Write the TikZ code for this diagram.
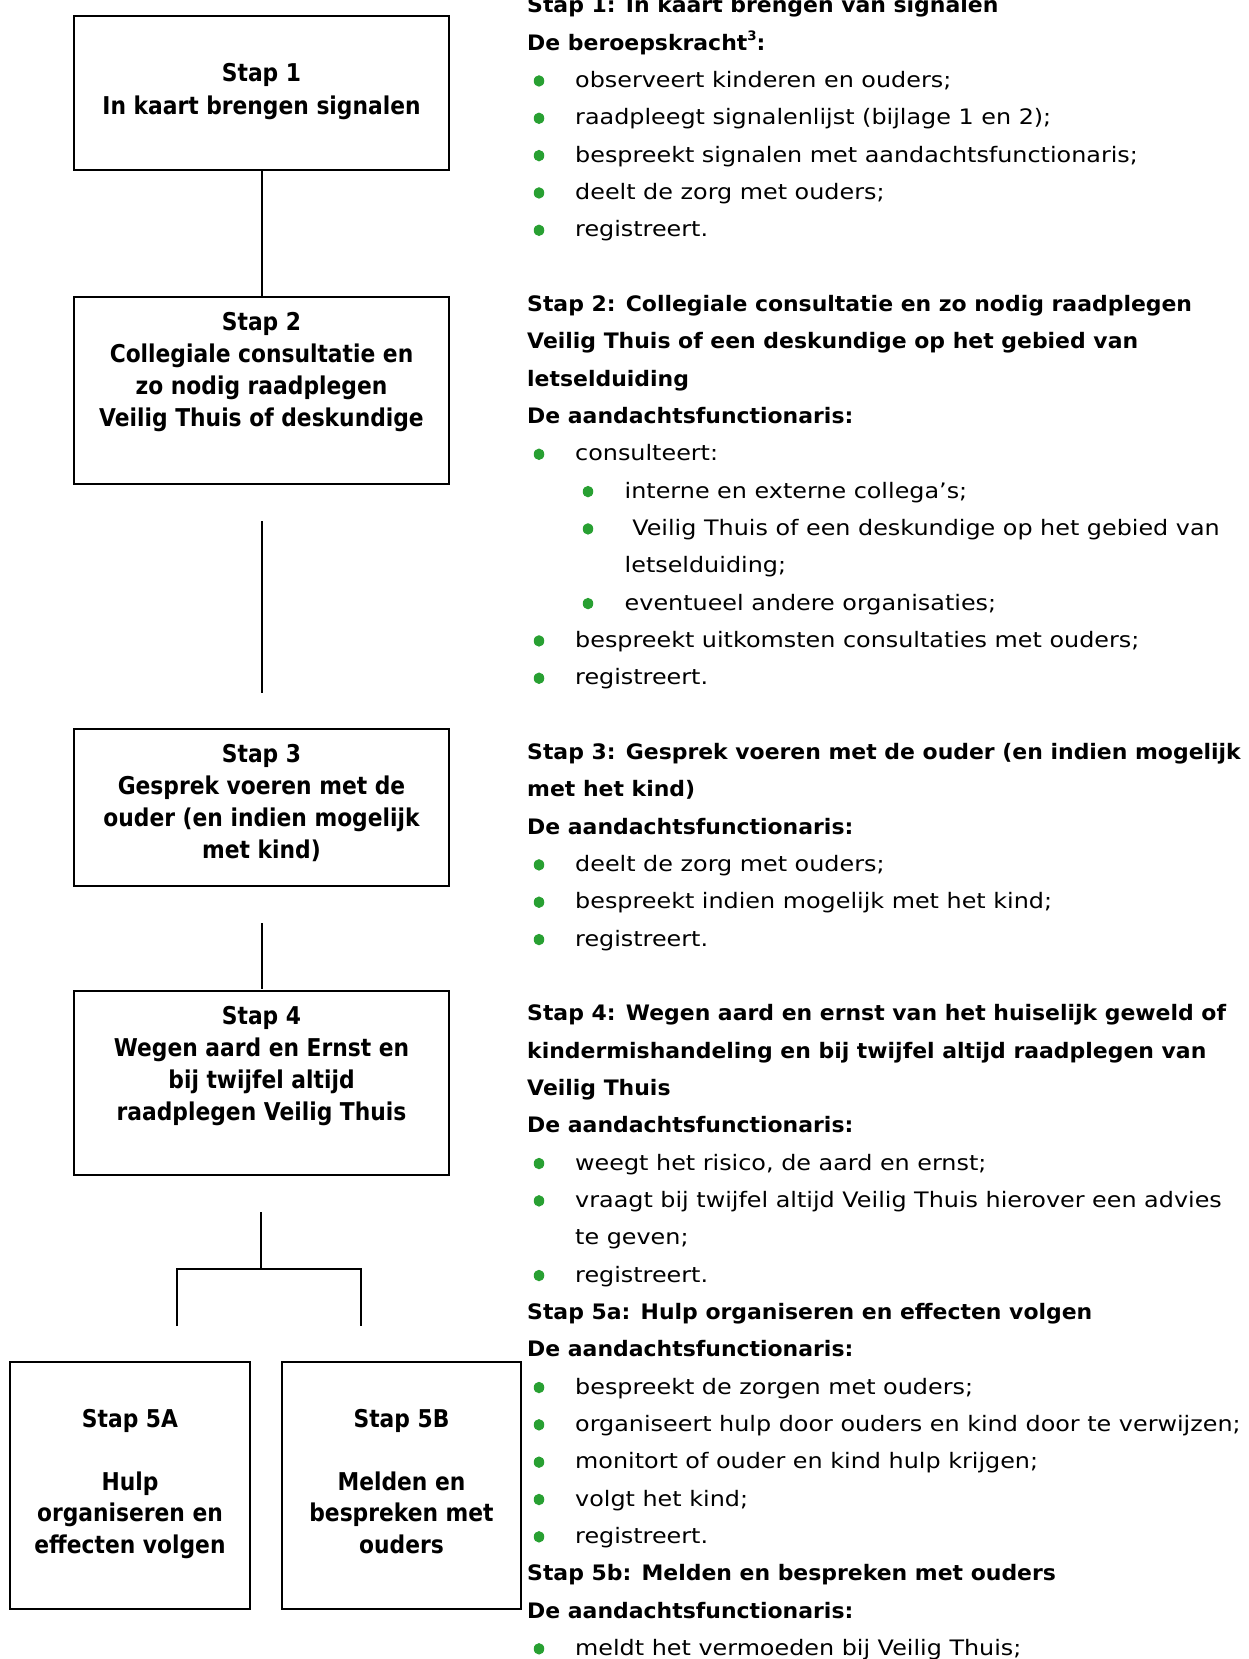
\documentclass[tikz,border=0pt]{standalone}
\usepackage{fontspec}
\usetikzlibrary{shapes.geometric}
\newfontfamily\rreg{DejaVu Sans}[FakeStretch=1.12]
\newfontfamily\rbold{DejaVu Sans Bold}[FakeStretch=1.03]
\newfontfamily\bxfont{DejaVu Sans Bold}[FakeStretch=0.89]
\definecolor{bulletgreen}{RGB}{40,160,50}
\newcommand\RHd[2]{\node[hd] (h#1) at (527,{12.8+37.33*#1}) {#2};}
\newcommand\RBul[2]{\node[dot] (d#1) at (539,{6.3+37.33*#1}) {};\node[tx] (t#1) at (575,{12.8+37.33*#1}) {#2};}
\newcommand\RSub[2]{\node[dot] (d#1) at (588,{6.3+37.33*#1}) {};\node[tx] (t#1) at (624.5,{12.8+37.33*#1}) {#2};}
\newcommand\RCont[3]{\node[tx] (t#2) at (#1,{12.8+37.33*#2}) {#3};}
\begin{document}
\begin{tikzpicture}[x=1pt,y=-1pt,
  box/.style={draw, line width=2pt, inner sep=0pt},
  btxt/.style={anchor=base, inner sep=0pt, font=\bxfont\fontsize{24.5}{32}\selectfont},
  hd/.style={anchor=base west, inner sep=0pt, font=\rbold\fontsize{21.3}{37.33}\selectfont},
  tx/.style={anchor=base west, inner sep=0pt, font=\rreg\fontsize{21.3}{37.33}\selectfont},
  dot/.style={ellipse, fill=bulletgreen, inner sep=0pt, minimum width=10.5pt, minimum height=11.5pt},
  conn/.style={line width=2pt}]
\useasboundingbox[fill=white] (0,0) rectangle (1248,1659);

% boxes
\node[box, minimum width=375, minimum height=154] (b1) at (261.5,93) {};
\node[box, minimum width=375, minimum height=187] (b2) at (261.5,390.5) {};
\node[box, minimum width=375, minimum height=157] (b3) at (261.5,807.5) {};
\node[box, minimum width=375, minimum height=184] (b4) at (261.5,1083) {};
\node[box, minimum width=240, minimum height=247] (b5a) at (130,1485.5) {};
\node[box, minimum width=239, minimum height=247] (b5b) at (401.5,1485.5) {};

% box texts
\node[btxt] (b1t1) at (261.5,82) {Stap 1};
\node[btxt] (b1t2) at (261.5,114) {In kaart brengen signalen};
\node[btxt] (b2t1) at (261.5,330) {Stap 2};
\node[btxt] (b2t2) at (261.5,362) {Collegiale consultatie en};
\node[btxt] (b2t3) at (261.5,394) {zo nodig raadplegen};
\node[btxt] (b2t4) at (261.5,426) {Veilig Thuis of deskundige};
\node[btxt] (b3t1) at (261.5,762) {Stap 3};
\node[btxt] (b3t2) at (261.5,794) {Gesprek voeren met de};
\node[btxt] (b3t3) at (261.5,826) {ouder (en indien mogelijk};
\node[btxt] (b3t4) at (261.5,858) {met kind)};
\node[btxt] (b4t1) at (261.5,1024.5) {Stap 4};
\node[btxt] (b4t2) at (261.5,1056.5) {Wegen aard en Ernst en};
\node[btxt] (b4t3) at (261.5,1088.5) {bij twijfel altijd};
\node[btxt] (b4t4) at (261.5,1120.5) {raadplegen Veilig Thuis};
\node[btxt] (b5at1) at (130,1427) {Stap 5A};
\node[btxt] (b5at2) at (130,1490) {Hulp};
\node[btxt] (b5at3) at (130,1521.5) {organiseren en};
\node[btxt] (b5at4) at (130,1553) {effecten volgen};
\node[btxt] (b5bt1) at (401.5,1427) {Stap 5B};
\node[btxt] (b5bt2) at (401.5,1490) {Melden en};
\node[btxt] (b5bt3) at (401.5,1521.5) {bespreken met};
\node[btxt] (b5bt4) at (401.5,1553) {ouders};

% connectors
\coordinate (c2a) at (261.5,521);
\coordinate (c2b) at (261.5,693);
\coordinate (c3a) at (261.5,923);
\coordinate (c3b) at (261.5,989);
\coordinate (c4a) at (261,1212);
\coordinate (c4m) at (261,1269);
\coordinate (c4l) at (177,1269);
\coordinate (c4r) at (361,1269);
\coordinate (c4lb) at (177,1326);
\coordinate (c4rb) at (361,1326);
\draw[conn] (b1) -- (b2);
\draw[conn] (c2a) -- (c2b);
\draw[conn] (c3a) -- (c3b);
\draw[conn] (c4a) -- (c4m);
\draw[conn] (c4lb) -- (c4l) -- (c4r) -- (c4rb);

% right column
\RHd{0}{Stap 1: In kaart brengen van signalen}
\RHd{1}{De beroepskracht\raisebox{0.45em}{\fontsize{13}{13}\selectfont 3}:}
\RBul{2}{observeert kinderen en ouders;}
\RBul{3}{raadpleegt signalenlijst (bijlage 1 en 2);}
\RBul{4}{bespreekt signalen met aandachtsfunctionaris;}
\RBul{5}{deelt de zorg met ouders;}
\RBul{6}{registreert.}
\RHd{8}{Stap 2: Collegiale consultatie en zo nodig raadplegen}
\RHd{9}{Veilig Thuis of een deskundige op het gebied van}
\RHd{10}{letselduiding}
\RHd{11}{De aandachtsfunctionaris:}
\RBul{12}{consulteert:}
\RSub{13}{interne en externe collega’s;}
\RSub{14}{\ Veilig Thuis of een deskundige op het gebied van}
\RCont{624.5}{15}{letselduiding;}
\RSub{16}{eventueel andere organisaties;}
\RBul{17}{bespreekt uitkomsten consultaties met ouders;}
\RBul{18}{registreert.}
\RHd{20}{Stap 3: Gesprek voeren met de ouder (en indien mogelijk}
\RHd{21}{met het kind)}
\RHd{22}{De aandachtsfunctionaris:}
\RBul{23}{deelt de zorg met ouders;}
\RBul{24}{bespreekt indien mogelijk met het kind;}
\RBul{25}{registreert.}
\RHd{27}{Stap 4: Wegen aard en ernst van het huiselijk geweld of}
\RHd{28}{kindermishandeling en bij twijfel altijd raadplegen van}
\RHd{29}{Veilig Thuis}
\RHd{30}{De aandachtsfunctionaris:}
\RBul{31}{weegt het risico, de aard en ernst;}
\RBul{32}{vraagt bij twijfel altijd Veilig Thuis hierover een advies}
\RCont{575}{33}{te geven;}
\RBul{34}{registreert.}
\RHd{35}{Stap 5a: Hulp organiseren en effecten volgen}
\RHd{36}{De aandachtsfunctionaris:}
\RBul{37}{bespreekt de zorgen met ouders;}
\RBul{38}{organiseert hulp door ouders en kind door te verwijzen;}
\RBul{39}{monitort of ouder en kind hulp krijgen;}
\RBul{40}{volgt het kind;}
\RBul{41}{registreert.}
\RHd{42}{Stap 5b: Melden en bespreken met ouders}
\RHd{43}{De aandachtsfunctionaris:}
\RBul{44}{meldt het vermoeden bij Veilig Thuis;}
\end{tikzpicture}
\end{document}
